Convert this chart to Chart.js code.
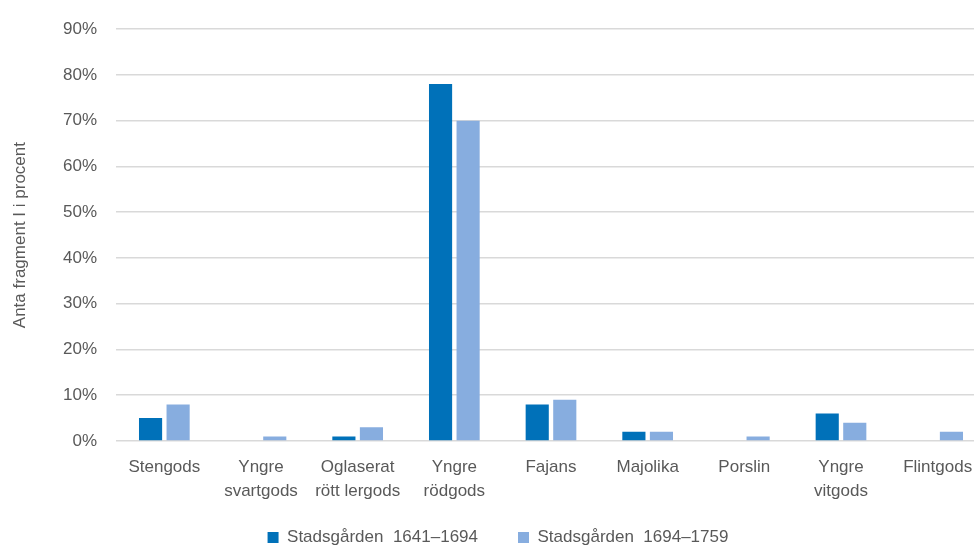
<!DOCTYPE html>
<html>
<head>
<meta charset="utf-8">
<script src="https://cdn.jsdelivr.net/npm/chart.js@4"></script>
<style>
  html, body { margin: 0; padding: 0; background: #fff; overflow: hidden; }
  #wrap { width: 988px; height: 547px; }
</style>
</head>
<body>
<div id="wrap"><canvas id="fragChart" width="988" height="547"></canvas></div>
<script>
// Kategorier och andelar (procent)
const categories = ['Stengods', ['Yngre', 'svartgods'], ['Oglaserat', 'rött lergods'], ['Yngre', 'rödgods'],
    'Fajans', 'Majolika', 'Porslin', ['Yngre', 'vitgods'], 'Flintgods'];
const period1Label = 'Stadsgården  1641–1694';
const period2Label = 'Stadsgården  1694–1759';
const period1 = [5, 0, 1, 78, 8, 2, 0, 6, 0];
const period2 = [8, 1, 3, 70, 9, 2, 1, 4, 2];
const yTicks = [0, 10, 20, 30, 40, 50, 60, 70, 80, 90];

const textColor = '#595959';
Chart.defaults.font.family = "'Liberation Sans', Arial, sans-serif";
Chart.defaults.font.size = 17;
Chart.defaults.color = textColor;

// legenden: stort avstånd mellan posterna men låg höjd, övre kant flyttas upp
const legendHeight = {
    id: 'legendHeight',
    beforeInit(chart) {
        const fit = chart.legend.fit;
        chart.legend.fit = function () {
            fit.call(this);
            this.height = 36;
        };
    },
    afterLayout(chart) {
        chart.legend.top -= 22;
        chart.legend.height += 22;
    }
};

const ctx = document.getElementById('fragChart').getContext('2d');
const fragChart = new Chart(ctx, {
    type: 'bar',
    data: {
        labels: categories,
        datasets: [{
            label: period1Label,
            data: period1,
            backgroundColor: '#0071b9',
            categoryPercentage: 0.57,
            barPercentage: 0.84
        }, {
            label: period2Label,
            data: period2,
            backgroundColor: '#87addf',
            categoryPercentage: 0.57,
            barPercentage: 0.84
        }]
    },
    plugins: [legendHeight],
    options: {
        responsive: false,
        animation: false,
        layout: { padding: { top: 17, right: 2, left: 10, bottom: 0 } },
        plugins: {
            legend: {
                position: 'bottom',
                labels: { boxWidth: 11, boxHeight: 11, padding: 40, color: textColor }
            },
            tooltip: { enabled: false }
        },
        scales: {
            x: {
                grid: { display: false },
                border: { display: false },
                ticks: { maxRotation: 0, autoSkip: false, padding: 6, font: { lineHeight: 1.41 } },
                afterFit(scale) { scale.height = 70; }
            },
            y: {
                min: 0,
                max: 90,
                afterBuildTicks(scale) { scale.ticks = yTicks.map(v => ({ value: v })); },
                grid: { color: '#d9d9d9', lineWidth: 1.5, drawTicks: false },
                border: { display: false },
                ticks: { padding: 19, callback: v => v + '%' },
                title: { display: true, text: 'Anta fragment I i procent', padding: 0 },
                afterFit(scale) { scale.width = 106; }
            }
        }
    }
});
</script>
</body>
</html>
